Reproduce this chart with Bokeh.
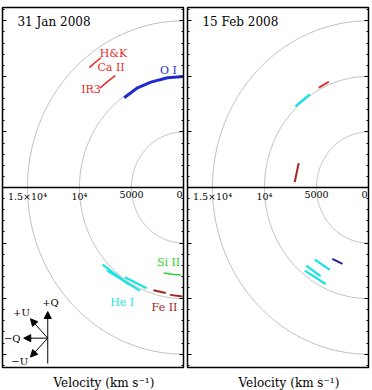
import numpy as np
from bokeh.plotting import figure
from bokeh.layouts import row
from bokeh.models import (Range1d, LinearAxis, SingleIntervalTicker, CustomJSTickFormatter,
                          Span, Label, Title, Arrow, NormalHead)
from bokeh.embed import file_html
from bokeh.resources import INLINE

# ---------------------------------------------------------------------------
# Data: epochs, reference velocity rings, axis tick labels
# ---------------------------------------------------------------------------
epochs = ["31 Jan 2008", "15 Feb 2008"]
ring_vel = [5000, 10000, 15000]
tick_vel = [15000, 10000, 5000, 0]
tick_text = ["1.5×10⁴", "10⁴", "5000", "0"]
axis_title = "Velocity (km s⁻¹)"

# Line features: velocity (km/s) and polarization angle (deg, +Q=0, +U=45, -Q=90, -U=135)
# 31 Jan 2008
oi_1_vel = [10000, 10000, 9990, 10000, 9890]
oi_1_ang = [0.0, 8.8, 18.3, 26.2, 35.2]
cahk_1_vel = [14080, 14100, 14120]
cahk_1_ang = [40.0, 37.1, 34.2]
cair3_1_vel = [12020, 12015, 12010]
cair3_1_ang = [41.9, 37.5, 33.1]
sii_1_vel = [7920, 7890, 7870]
sii_1_ang = [166.0, 172.0, 178.1]
feii_1a_vel = [9690, 9640]
feii_1a_ang = [162.7, 169.8]
feii_1b_vel = [9750, 9820]
feii_1b_ang = [172.4, 179.4]
hei_1a_vel = [10430, 10190]
hei_1a_ang = [131.8, 149.0]
hei_1b_vel = [10490, 10180]
hei_1b_ang = [135.5, 155.7]
hei_1c_vel = [9850, 9740]
hei_1c_ang = [145.1, 158.6]

# 15 Feb 2008
hei_2a_vel = [10130, 10100]
hei_2a_ang = [43.9, 33.9]
caii_2_vel = [10170, 10250]
caii_2_ang = [28.0, 21.8]
feii_2_vel = [7110, 7060]
feii_2_ang = [86.1, 71.9]
oi_2_vel = [7300, 7320]
oi_2_ang = [151.5, 160.0]
hei_2b_vel = [8290, 8290]
hei_2b_ang = [141.5, 153.4]
hei_2c_vel = [9240, 9220]
hei_2c_ang = [139.6, 150.0]
hei_2d_vel = [9670, 9610]
hei_2d_ang = [140.7, 154.6]

# ---------------------------------------------------------------------------
# Styles
# ---------------------------------------------------------------------------
SERIF = "DejaVu Serif"
C_OI = "#1f2bd0"
C_OI_DARK = "#23239a"
C_CAII = "#e52b2b"
C_FEII = "#a52424"
C_HEI = "#19e3e3"
C_SIII = "#2fd12f"


def to_xy(vel, ang):
    v = np.asarray(vel, dtype=float)
    a = np.radians(np.asarray(ang, dtype=float))
    return -v * np.sin(a), v * np.cos(a)


def make_panel(date, tracks, notes, pad_left, pad_right):
    p = figure(frame_width=181, frame_height=360,
               x_range=Range1d(-17400, 0), y_range=Range1d(-16200, 16200),
               x_axis_location=None,
               output_backend="svg", toolbar_location=None,
               min_border_left=pad_left, min_border_right=pad_right,
               min_border_top=7, min_border_bottom=0,
               background_fill_color="white", border_fill_color="white")
    p.grid.visible = False
    p.outline_line_color = "black"
    p.outline_line_width = 1.5

    # vertical axes: inward ticks only, on both sides, no numbers
    ticker = SingleIntervalTicker(interval=5000, num_minor_ticks=5)
    yl = p.yaxis[0]
    yr = LinearAxis()
    p.add_layout(yr, "right")
    for ax in (yl, yr):
        ax.ticker = ticker
        ax.formatter = CustomJSTickFormatter(code="return ''")
        ax.axis_line_color = None
        ax.major_tick_in = 4
        ax.major_tick_out = 0
        ax.minor_tick_in = 2
        ax.minor_tick_out = 0
        ax.major_tick_line_color = "black"
        ax.minor_tick_line_color = "black"
        ax.major_label_text_font_size = "0px"
        ax.major_label_standoff = 0

    # axis caption below the frame
    p.add_layout(Title(text=axis_title, align="left", offset=51, standoff=12,
                       text_line_height=1.0,
                       text_font=SERIF, text_font_size="12px", text_font_style="normal",
                       text_color="black"), "below")

    # velocity rings
    theta = np.linspace(0, 180, 361)
    for r in ring_vel:
        rx, ry = to_xy(np.full_like(theta, r), theta)
        p.line(rx, ry, line_color="#b4b4b4", line_width=0.9)

    # zero line between the two halves
    p.add_layout(Span(location=0, dimension="width", line_color="black", line_width=1.5))

    # velocity labels along the zero line (the zero sits flush against the frame edge)
    for v, t in zip(tick_vel, tick_text):
        align = "right" if v == 0 else "center"
        p.add_layout(Label(x=-v, y=0, text=t, text_align=align, text_baseline="top",
                           y_offset=-3, x_offset=-1 if v == 0 else 0,
                           text_font=SERIF, text_font_size="9.5px", text_color="black"))

    for vel, ang, color, width in tracks:
        x, y = to_xy(vel, ang)
        p.line(x, y, line_color=color, line_width=width)

    for text, x, y, color in notes:
        p.add_layout(Label(x=x, y=y, text=text, text_font=SERIF, text_font_size="11px",
                           text_color=color, text_align="center", text_baseline="middle"))

    p.add_layout(Label(x=-15960, y=14940, text=date, text_font=SERIF, text_font_size="12px",
                       text_color="black", text_align="left", text_baseline="alphabetic"))
    return p


tracks_1 = [
    (oi_1_vel, oi_1_ang, C_OI, 3),
    (cahk_1_vel, cahk_1_ang, C_CAII, 1.5),
    (cair3_1_vel, cair3_1_ang, C_CAII, 1.5),
    (sii_1_vel, sii_1_ang, C_SIII, 1.5),
    (feii_1a_vel, feii_1a_ang, C_FEII, 2),
    (feii_1b_vel, feii_1b_ang, C_FEII, 2),
    (hei_1a_vel, hei_1a_ang, C_HEI, 2.2),
    (hei_1b_vel, hei_1b_ang, C_HEI, 2.2),
    (hei_1c_vel, hei_1c_ang, C_HEI, 2.2),
]
notes_1 = [
    ("H&K", -6730, 12060, C_CAII),
    ("Ca II", -6970, 10760, C_CAII),
    ("IR3", -8890, 8780, C_CAII),
    ("O I", -1440, 10490, C_OI),
    ("Si II", -1440, -6780, C_SIII),
    ("Fe II", -1830, -10770, C_FEII),
    ("He I", -5890, -10320, C_HEI),
]
tracks_2 = [
    (hei_2a_vel, hei_2a_ang, C_HEI, 2.5),
    (caii_2_vel, caii_2_ang, C_CAII, 2),
    (feii_2_vel, feii_2_ang, C_FEII, 2),
    (oi_2_vel, oi_2_ang, C_OI_DARK, 2),
    (hei_2b_vel, hei_2b_ang, C_HEI, 2.2),
    (hei_2c_vel, hei_2c_ang, C_HEI, 2.2),
    (hei_2d_vel, hei_2d_ang, C_HEI, 2.2),
]

left = make_panel(epochs[0], tracks_1, notes_1, pad_left=2, pad_right=3)
right = make_panel(epochs[1], tracks_2, [], pad_left=1, pad_right=4)

# Stokes orientation key
ox, oy = -13050, -13560
head = lambda: NormalHead(size=7, fill_color="black", line_color="black", line_width=1)
left.add_layout(Arrow(end=head(), x_start=ox, y_start=-15840, x_end=ox, y_end=-11160,
                      line_color="black", line_width=1))
for xe, ye in [(-15360, oy), (-14710, -11820), (-14710, -15260)]:
    left.add_layout(Arrow(end=head(), x_start=ox, y_start=oy, x_end=xe, y_end=ye,
                          line_color="black", line_width=1))
for text, x, y in [("+Q", -12790, -10350), ("+U", -15580, -11250),
                   ("−Q", -16470, -13550), ("−U", -15740, -15660)]:
    left.add_layout(Label(x=x, y=y, text=text, text_font=SERIF, text_font_size="10px",
                          text_color="black", text_align="center", text_baseline="middle"))

layout = row(left, right, spacing=0)
open("out.html", "w").write(file_html(layout, INLINE))
